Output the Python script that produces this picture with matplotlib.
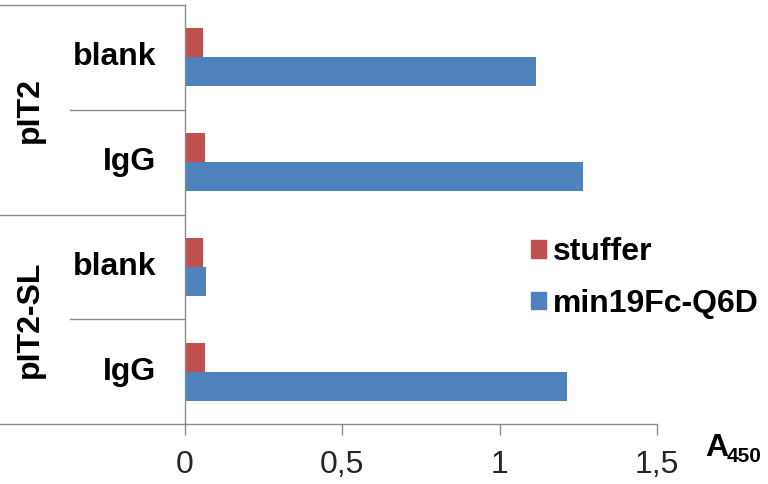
"""
Horizontal grouped bar chart of A450 signals for the pIT2 and pIT2-SL libraries.
"""
import matplotlib
matplotlib.use('Agg')
import matplotlib.pyplot as plt
import matplotlib.transforms as mtransforms
from matplotlib.patches import Patch
from matplotlib.ticker import FuncFormatter

# data
groups = ['pIT2', 'pIT2-SL']
categories = ['blank', 'IgG', 'blank', 'IgG']
stuffer = [0.058, 0.063, 0.058, 0.063]
min19fc = [1.116, 1.266, 0.067, 1.213]
series_names = ['stuffer', 'min19Fc-Q6D']
x_ticks = [0, 0.5, 1, 1.5]

RED = '#C0504D'
BLUE = '#4F81BD'
GREY = '#8C8C8C'

plt.rcParams['font.family'] = ['Liberation Sans', 'DejaVu Sans']

fig = plt.figure(figsize=(7.68, 4.84), dpi=100)
ax = fig.add_axes([185 / 768, 1 - 424 / 484, 472 / 768, 419 / 484])

bar_h = 0.276
pos = list(range(len(categories)))
ax.barh([p - bar_h / 2 for p in pos], stuffer, height=bar_h, color=RED)
ax.barh([p + bar_h / 2 for p in pos], min19fc, height=bar_h, color=BLUE)

ax.set_xlim(0, 1.5)
ax.set_ylim(len(categories) - 0.5, -0.5)
ax.set_xticks(x_ticks)
ax.xaxis.set_major_formatter(FuncFormatter(lambda v, _: f'{v:g}'.replace('.', ',')))
ax.tick_params(axis='x', length=8, width=1, color=GREY, pad=11,
               labelsize=23, labelcolor='#262626')
ax.set_yticks([])

for side in ['top', 'right']:
    ax.spines[side].set_visible(False)
for side in ['left', 'bottom']:
    ax.spines[side].set_color(GREY)
    ax.spines[side].set_linewidth(1)

# separator lines left of the axis
trans = mtransforms.blended_transform_factory(ax.transAxes, ax.transData)
left_group = -185 / 472
left_cat = (70 - 185) / 472
for y, x0 in [(-0.5, left_group), (0.5, left_cat), (1.5, left_group),
              (2.5, left_cat), (3.5, left_group)]:
    ax.plot([x0, 0], [y, y], transform=trans, color=GREY, lw=1, clip_on=False)

# category labels
for p, name in zip(pos, categories):
    ax.text(-29 / 472, p, name, transform=trans, ha='right', va='center',
            fontsize=23, fontweight='bold')

# group labels, rotated
for g, name in enumerate(groups):
    ax.text(-155 / 472, 2 * g + 0.5, name, transform=trans, rotation=90,
            ha='center', va='center', fontsize=23, fontweight='bold')

# legend
handles = [Patch(color=RED), Patch(color=BLUE)]
fig.legend(handles, series_names, loc='center left',
           bbox_to_anchor=(531 / 768, 1 - 278 / 484), frameon=False,
           prop={'size': 23, 'weight': 'bold'}, borderpad=0, borderaxespad=0,
           handlelength=0.47, handleheight=0.47, handletextpad=0.22,
           labelspacing=0.68)

# axis title A450
fig.text(705 / 768, 1 - 456 / 484, 'A', fontsize=23, fontweight='bold',
         ha='left', va='baseline')
fig.text(727 / 768, 1 - 462 / 484, '450', fontsize=15, fontweight='bold',
         ha='left', va='baseline')

fig.savefig('out.png', dpi=100)
